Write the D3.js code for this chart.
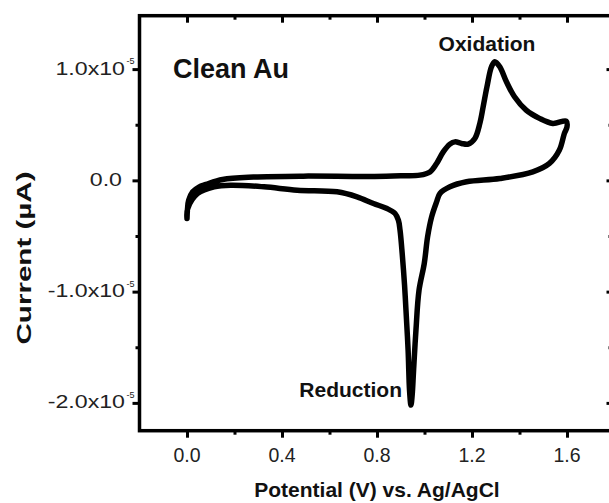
<!DOCTYPE html>
<html><head><meta charset="utf-8">
<script src="https://cdn.jsdelivr.net/npm/d3@7"></script>
<style>
html,body{margin:0;padding:0;background:#fff;}
svg{display:block;font-family:"Liberation Sans",Arial,sans-serif;}
</style></head>
<body>
<svg id="chart" width="609" height="503"></svg>
<script>
// ---- data (potential in V, current in units of 1e-5 A) ----
const potential = [
  0.000,0.002,0.007,0.024,0.050,0.080,0.150,0.280,0.490,0.770,0.900,0.980,
  1.023,1.051,1.079,1.107,1.128,1.156,1.184,1.212,1.233,1.247,1.263,1.282,
  1.296,1.317,1.345,1.379,1.428,1.484,1.540,1.597,
  1.600,1.589,1.568,1.526,1.456,1.317,1.177,1.107,1.065,1.051,1.030,1.013,
  0.999,0.977,0.964,0.954,0.948,0.943,0.937,0.931,0.922,0.916,0.906,0.897,
  0.890,0.876,0.842,0.785,0.716,0.632,0.464,0.324,0.184,0.114,0.045,0.003,0.000
];
const current = [
  -0.343,-0.260,-0.180,-0.103,-0.060,-0.037,0.008,0.030,0.038,0.035,0.042,0.047,
  0.076,0.152,0.256,0.326,0.346,0.332,0.326,0.377,0.512,0.661,0.841,1.021,
  1.066,1.021,0.886,0.751,0.631,0.557,0.512,0.532,
  0.480,0.422,0.272,0.152,0.076,0.017,-0.013,-0.058,-0.118,-0.193,-0.328,-0.508,
  -0.747,-0.987,-1.347,-1.707,-1.932,-2.020,-1.887,-1.527,-1.167,-0.942,-0.655,-0.448,
  -0.358,-0.298,-0.253,-0.208,-0.148,-0.103,-0.088,-0.058,-0.043,-0.058,-0.118,-0.253,-0.343
];
const xMajorTicks = [0, 0.4, 0.8, 1.2, 1.6];
const xMinorTicks = [0.2, 0.6, 1.0, 1.4];
const xTickLabels = ["0.0", "0.4", "0.8", "1.2", "1.6"];
const yMajorTicks = [1, 0, -1, -2];
const yMinorTicks = [0.5, -0.5, -1.5];
const yTickLabels = ["1.0x10", "0.0", "-1.0x10", "-2.0x10"];
const yTickExponents = ["-5", "", "-5", "-5"];
const xTitle = "Potential (V) vs. Ag/AgCl";
const yTitle = "Current (\u00B5A)";
const panelLabel = "Clean Au";
const oxLabel = "Oxidation";
const redLabel = "Reduction";

// ---- layout ----
const L = 139.5, T = 15.7, R = 614.5, B = 430.7;
const svg = d3.select("#chart");
const x = d3.scaleLinear().domain([-0.2, 1.8]).range([L, R]);
const y = d3.scaleLinear().domain([-2.25, 1.48]).range([B, T]);

// frame
svg.append("rect").attr("x", L).attr("y", T).attr("width", R - L).attr("height", B - T)
  .attr("fill", "none").attr("stroke", "#000").attr("stroke-width", 3.5);

function axisStyle(g){ g.select(".domain").remove(); g.selectAll("line").attr("stroke","#000").attr("stroke-width",3); }

// bottom (outward) ticks
svg.append("g").attr("transform", `translate(0,${B})`)
  .call(d3.axisBottom(x).tickValues(xMajorTicks).tickSize(7).tickFormat(""))
  .call(axisStyle);
svg.append("g").attr("transform", `translate(0,${B})`)
  .call(d3.axisBottom(x).tickValues(xMinorTicks).tickSize(4).tickFormat(""))
  .call(axisStyle);
// top (inward)
svg.append("g").attr("transform", `translate(0,${T})`)
  .call(d3.axisBottom(x).tickValues(xMajorTicks).tickSize(7).tickFormat(""))
  .call(axisStyle);
svg.append("g").attr("transform", `translate(0,${T})`)
  .call(d3.axisBottom(x).tickValues(xMinorTicks).tickSize(4).tickFormat(""))
  .call(axisStyle);
// left (outward)
svg.append("g").attr("transform", `translate(${L},0)`)
  .call(d3.axisLeft(y).tickValues(yMajorTicks).tickSize(7).tickFormat(""))
  .call(axisStyle);
svg.append("g").attr("transform", `translate(${L},0)`)
  .call(d3.axisLeft(y).tickValues(yMinorTicks).tickSize(4).tickFormat(""))
  .call(axisStyle);
// right (inward)
svg.append("g").attr("transform", `translate(${R},0)`)
  .call(d3.axisLeft(y).tickValues(yMajorTicks).tickSize(8).tickFormat(""))
  .call(axisStyle);
svg.append("g").attr("transform", `translate(${R},0)`)
  .call(d3.axisLeft(y).tickValues(yMinorTicks).tickSize(6).tickFormat(""))
  .call(axisStyle);

// x tick labels
svg.append("g").selectAll("text").data(xMajorTicks).join("text")
  .attr("x", d => x(d)).attr("y", 461.5)
  .attr("text-anchor", "middle").attr("font-size", 19.5).attr("fill", "#222")
  .text((d, i) => xTickLabels[i]);

// y tick labels
const yl = svg.append("g").selectAll("g").data(yMajorTicks).join("g");
yl.append("text")
  .attr("transform", (d, i) => `translate(${yTickExponents[i] ? 125 : 122},${y(d) + 5.5}) scale(1.22,1)`)
  .attr("text-anchor", "end").attr("font-size", 19).attr("fill", "#222")
  .text((d, i) => yTickLabels[i]);
yl.append("text")
  .attr("x", 126.5).attr("y", d => y(d) - 5)
  .attr("font-size", 9).attr("fill", "#222")
  .text((d, i) => yTickExponents[i]);

// axis titles
svg.append("text").attr("x", 377).attr("y", 497).attr("text-anchor", "middle")
  .attr("font-size", 21).attr("font-weight", "bold").attr("fill", "#111").text(xTitle);
svg.append("text").attr("transform", "translate(31,258) rotate(-90)")
  .attr("text-anchor", "middle").attr("font-size", 20).attr("font-weight", "bold")
  .attr("fill", "#111").attr("textLength", 173).attr("lengthAdjust", "spacingAndGlyphs")
  .text(yTitle);

// annotations
svg.append("text").attr("x", 173).attr("y", 78).attr("font-size", 27).attr("font-weight", "bold")
  .attr("fill", "#111").text(panelLabel);
svg.append("text").attr("x", 487).attr("y", 50.5).attr("text-anchor", "middle")
  .attr("font-size", 21).attr("font-weight", "bold").attr("fill", "#111").text(oxLabel);
svg.append("text").attr("x", 402).attr("y", 397).attr("text-anchor", "end")
  .attr("font-size", 21).attr("font-weight", "bold").attr("fill", "#111").text(redLabel);

// CV curve
const pts = potential.map((v, i) => [v, current[i]]);
const line = d3.line().x(d => x(d[0])).y(d => y(d[1])).curve(d3.curveCatmullRom.alpha(0.5));
svg.append("path").attr("d", line(pts)).attr("fill", "none").attr("stroke", "#000")
  .attr("stroke-width", 5.5).attr("stroke-linejoin", "round").attr("stroke-linecap", "round");
</script>
</body></html>
